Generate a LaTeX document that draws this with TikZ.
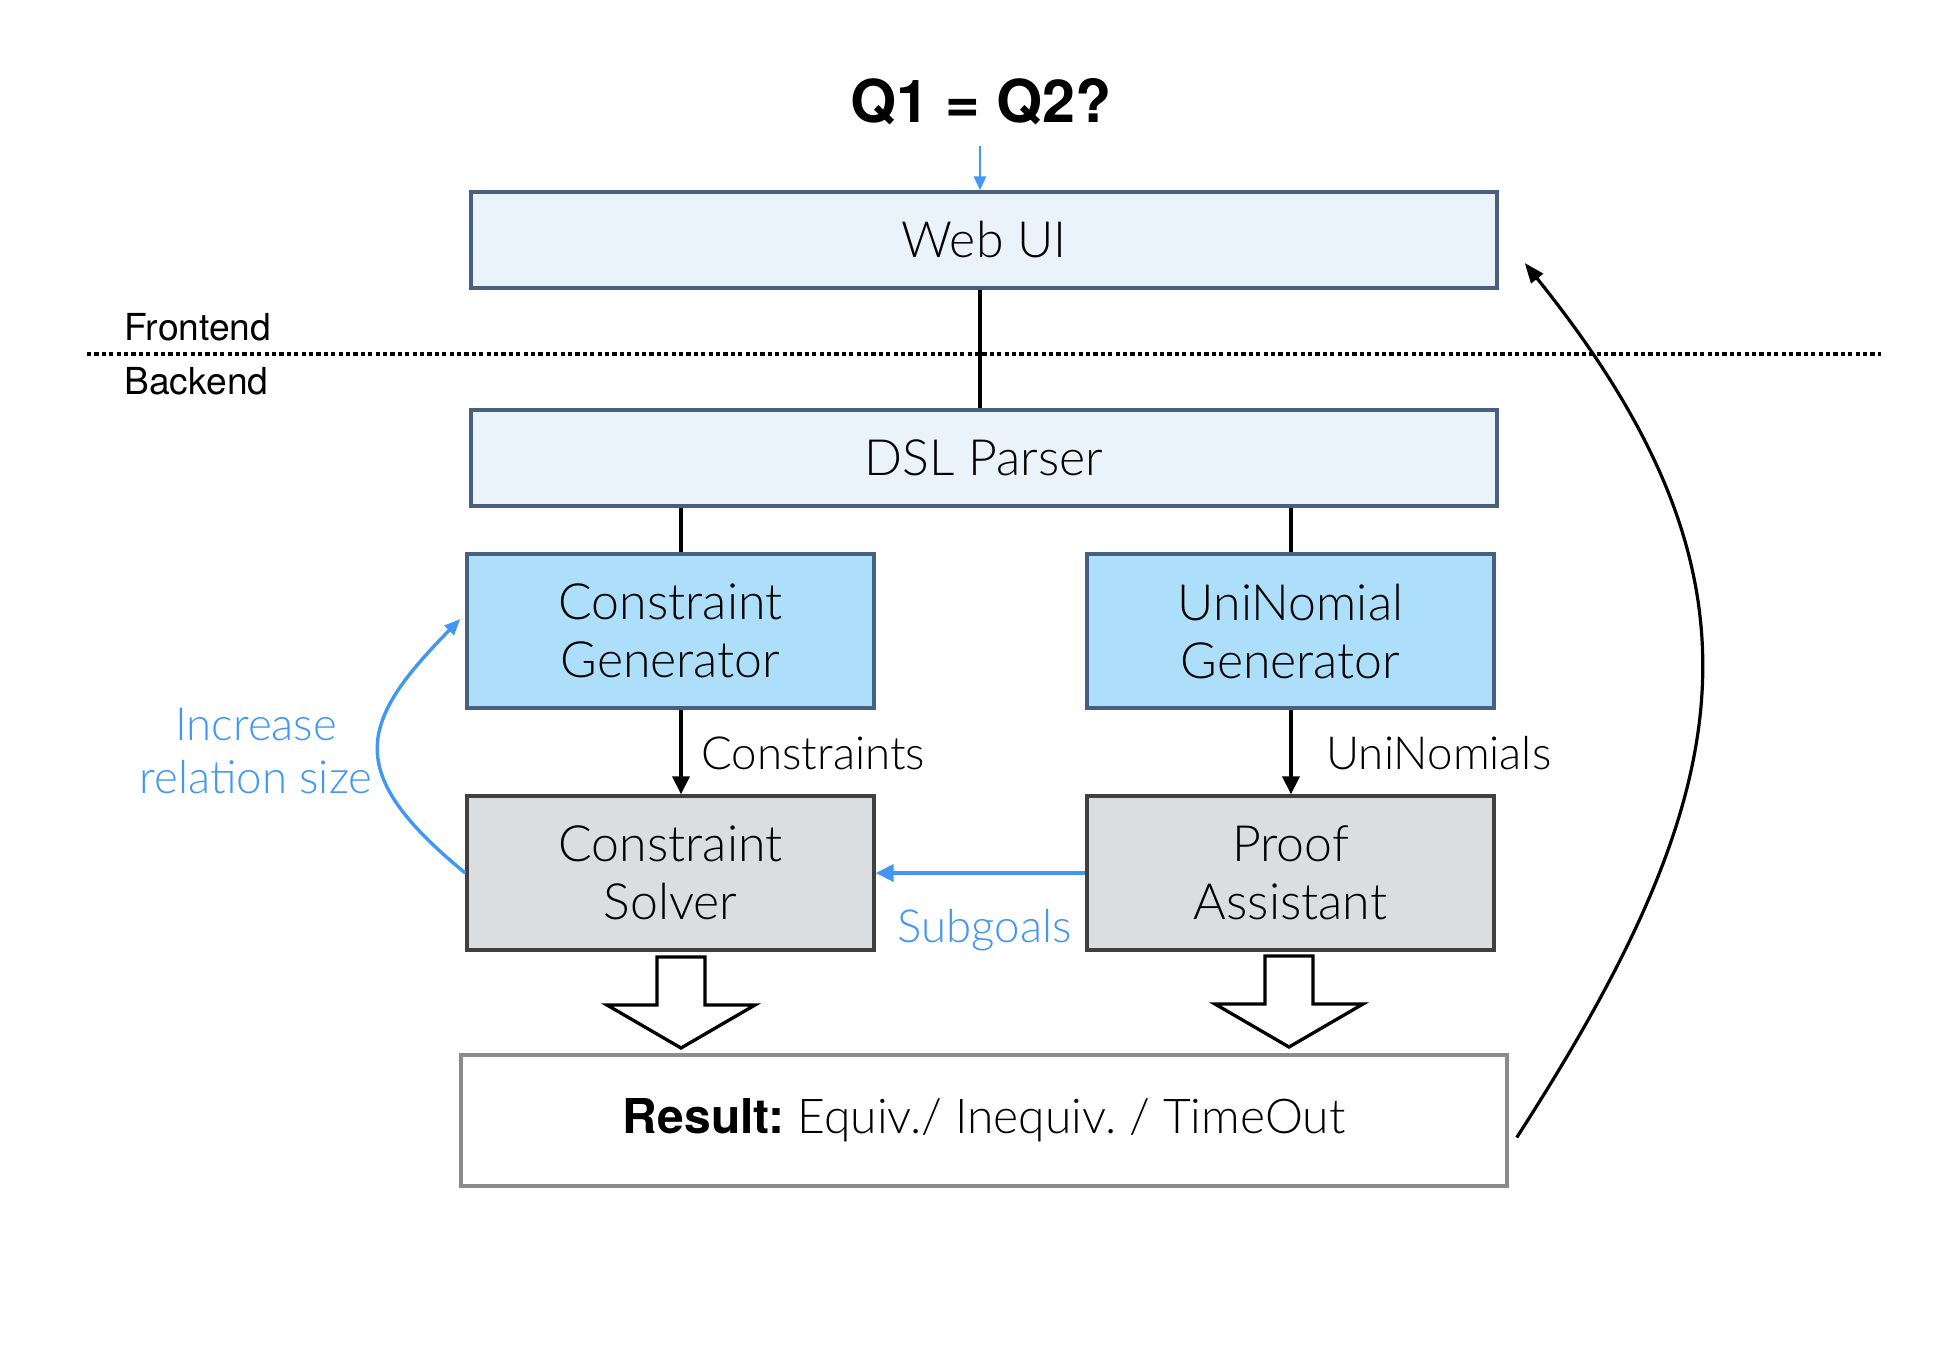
\documentclass[tikz,border=0pt]{standalone}
\usepackage{fontspec}
\setmainfont{TeX Gyre Heros}
\newfontfamily\lightf{Lato Light}
\usetikzlibrary{arrows.meta,calc}
\definecolor{slate}{HTML}{47607F}
\definecolor{lightfill}{HTML}{EBF3FA}
\definecolor{genfill}{HTML}{ADDFFB}
\definecolor{grayfill}{HTML}{DCDDDF}
\definecolor{grayline}{HTML}{404040}
\definecolor{resline}{HTML}{8B8B8F}
\definecolor{myblue}{HTML}{4296F5}
\begin{document}
\frenchspacing
\begin{tikzpicture}[x=0.5pt,y=-0.5pt,
  box/.style={draw=slate, line width=1.7pt, inner sep=0pt, align=center,
    font=\lightf\fontsize{25}{29}\selectfont},
  widebox/.style={box, fill=lightfill, minimum width=513pt, minimum height=48pt},
  genbox/.style={box, fill=genfill, minimum width=203.5pt, minimum height=77pt},
  solvebox/.style={box, draw=grayline, fill=grayfill, minimum width=203.5pt, minimum height=77pt},
  lbl/.style={inner sep=0pt, font=\lightf\fontsize{22.8}{26.5}\selectfont},
  side/.style={inner sep=0pt, anchor=west, font=\fontsize{18.6}{22}\selectfont},
  link/.style={line width=1.9pt},
  arr/.style={line width=1.9pt, -{Triangle[length=9pt,width=8.5pt]}},
  bluearr/.style={line width=2pt, myblue, -{Triangle[length=9pt,width=8.5pt]}},
  blockarrow/.pic={\draw[line width=1.65pt, fill=white, miter limit=10]
    (-24,0) -- (24,0) -- (24,48) -- (74,48) -- (0,91) -- (-74,48) -- (-24,48) -- cycle;}
]
\useasboundingbox (0,0) rectangle (1944,1356);
\fill[white] (0,0) rectangle (1944,1356);

% title
\node[inner sep=0pt, font=\bfseries\fontsize{29.6}{34}\selectfont] (title) at (981,102) {Q1 = Q2?};
\coordinate (tq) at (980,146);

% boxes
\node[widebox] (web) at (984,240) {Web UI};
\node[widebox] (dsl) at (984,458) {DSL Parser};
\node[genbox] (cg) at (670.5,631) {Constraint\\Generator};
\node[genbox] (ug) at (1290.5,631) {UniNomial\\Generator};
\node[solvebox] (cs) at (670.5,873) {Constraint\\Solver};
\node[solvebox] (pa) at (1290.5,873) {Proof\\Assistant};
\node[box, draw=resline, fill=white, minimum width=523pt, minimum height=65.5pt,
  font=\lightf\fontsize{24}{29}\selectfont] (res) at (984,1120.5)
  {{\rmfamily\bfseries Result:} Equiv./ Inequiv. / TimeOut};

% frontend / backend
\coordinate (dl) at (87,354);
\coordinate (dr) at (1881,354);
\draw[line width=2pt, dash pattern=on 2.1pt off 1.6pt] (dl) -- (dr);
\node[side] (fe) at (124,327) {Frontend};
\node[side] (be) at (124,381) {Backend};

% connectors
\coordinate (lx) at (681,0);
\coordinate (rx) at (1291,0);
\draw[myblue, line width=1.4pt, -{Triangle[length=7pt,width=6pt]}] (tq) -- (tq |- web.north);
\draw[link] (web.south -| tq) -- (dsl.north -| tq);
\draw[link] (dsl.south -| lx) -- (cg.north -| lx);
\draw[link] (dsl.south -| rx) -- (ug.north -| rx);
\draw[arr] (cg.south -| lx) -- (cs.north -| lx);
\draw[arr] (ug.south -| rx) -- (pa.north -| rx);
\node[lbl, anchor=west] (lc) at (701,753) {Constraints};
\node[lbl, anchor=west] (lu) at (1326,753) {UniNomials};
\draw[bluearr] (pa.west) -- (cs.east);
\node[lbl, myblue] (lsub) at (984.5,930) {Subgoals};

% increase relation size
\draw[myblue, line width=1.7pt, -{Triangle[length=8pt,width=6.5pt]}]
  (cs.west) .. controls (342,772) and (359,722) .. ([shift={(-5,-12)}]cg.west);
\node[lbl, myblue, align=center] (linc) at (256,751) {Increase\\relation size};

% block arrows
\pic at (681,957) {blockarrow};
\pic at (1289,956) {blockarrow};

% feedback arrow
\draw[line width=1.6pt, -{Triangle[length=10pt,width=7.5pt]}]
  ([shift={(8,17)}]res.east) .. controls (1740,791) and (1781,582) .. ([shift={(26,23)}]web.east);
\end{tikzpicture}
\end{document}
